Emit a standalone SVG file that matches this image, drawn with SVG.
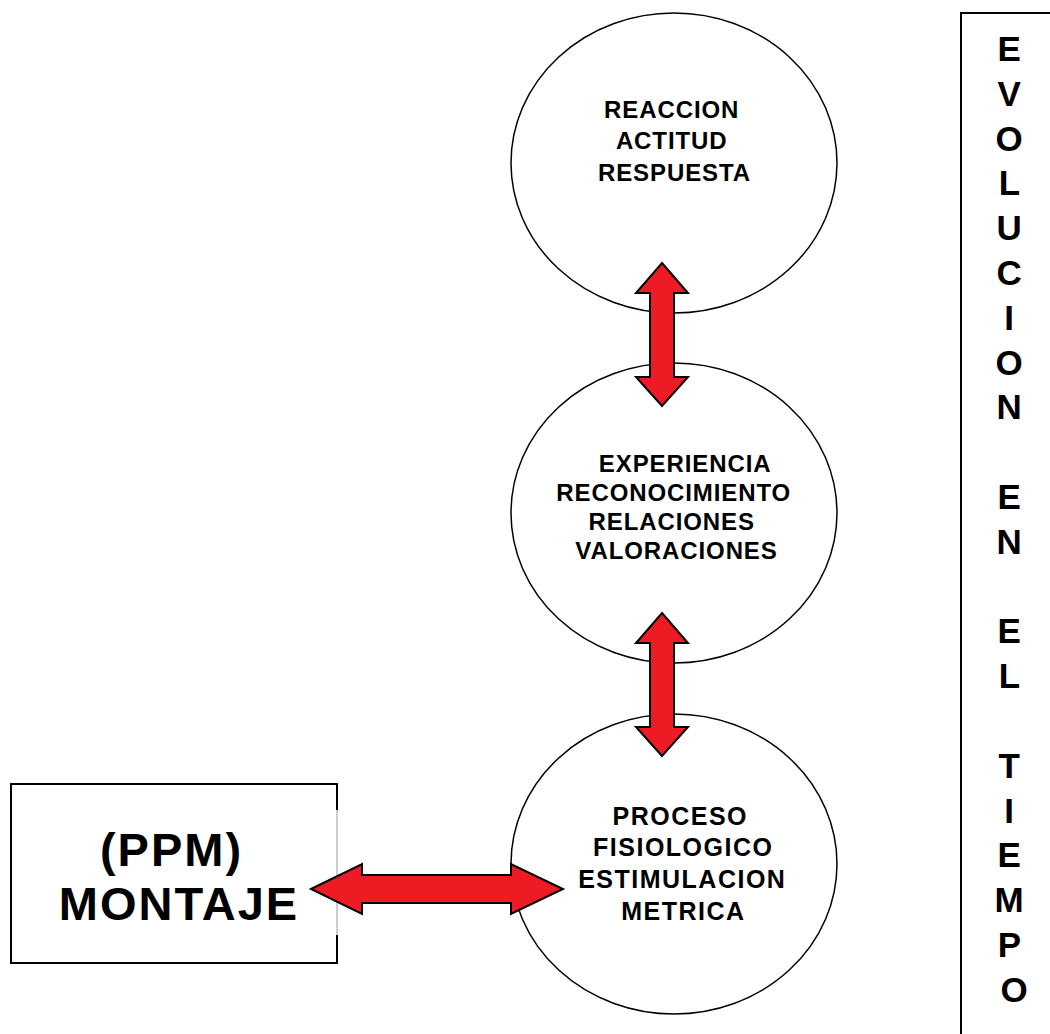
<svg xmlns="http://www.w3.org/2000/svg" width="1050" height="1034" viewBox="0 0 1050 1034">
  <style>
    .node { fill: #ffffff; stroke: #000000; stroke-width: 1.5; }
    .box { fill: #ffffff; stroke: #000000; stroke-width: 2; }
    .lbl { font-family: "Liberation Sans", Arial, sans-serif; font-weight: bold; fill: #000000; text-anchor: middle; }
    .ell { font-size: 24px; letter-spacing: 0.9px; }
    .ell-lg { font-size: 25px; letter-spacing: 1.5px; }
    .big { font-size: 47px; letter-spacing: 2px; }
    .col { font-size: 35px; }
    .arrow { fill: #ED1C24; stroke: #000000; stroke-width: 2; stroke-linejoin: miter; }
  </style>
  <rect width="1050" height="1034" fill="#ffffff"/>

  <!-- vertical banner on the right -->
  <g id="timeline">
    <rect class="box" x="961" y="13" width="200" height="1100"/>
    <text class="lbl col">
      <tspan x="1014" y="61">E</tspan>
      <tspan x="1014" y="105.8">V</tspan>
      <tspan x="1014" y="150.6">O</tspan>
      <tspan x="1014" y="195.4">L</tspan>
      <tspan x="1014" y="240.2">U</tspan>
      <tspan x="1014" y="285">C</tspan>
      <tspan x="1014" y="329.8">I</tspan>
      <tspan x="1014" y="374.6">O</tspan>
      <tspan x="1014" y="419.4">N</tspan>
      <tspan x="1014" y="509">E</tspan>
      <tspan x="1014" y="553.8">N</tspan>
      <tspan x="1014" y="643.4">E</tspan>
      <tspan x="1014" y="688.2">L</tspan>
      <tspan x="1014" y="777.8">T</tspan>
      <tspan x="1014" y="822.6">I</tspan>
      <tspan x="1014" y="867.4">E</tspan>
      <tspan x="1014" y="912.2">M</tspan>
      <tspan x="1014" y="957">P</tspan>
      <tspan x="1014" y="1001.8">O</tspan>
    </text>
  </g>

  <!-- three stages -->
  <g id="reaccion">
    <ellipse class="node" cx="674" cy="163" rx="163" ry="150"/>
    <text class="lbl ell">
      <tspan x="675.5" y="118">REACCION</tspan>
      <tspan x="675.5" y="149">ACTITUD</tspan>
      <tspan x="674.5" y="181">RESPUESTA</tspan>
    </text>
  </g>

  <g id="experiencia">
    <ellipse class="node" cx="674" cy="513" rx="163" ry="150"/>
    <text class="lbl ell">
      <tspan x="688.5" y="472">EXPERIENCIA</tspan>
      <tspan x="677.5" y="501">RECONOCIMIENTO</tspan>
      <tspan x="675.5" y="530">RELACIONES</tspan>
      <tspan x="676.5" y="559">VALORACIONES</tspan>
    </text>
  </g>

  <g id="proceso">
    <ellipse class="node" cx="674" cy="864" rx="163" ry="150"/>
    <text class="lbl ell-lg">
      <tspan x="684.5" y="825">PROCESO</tspan>
      <tspan x="687.5" y="856">FISIOLOGICO</tspan>
      <tspan x="686.5" y="888">ESTIMULACION</tspan>
      <tspan x="683.5" y="920">METRICA</tspan>
    </text>
  </g>

  <g id="montaje">
    <rect class="box" x="11" y="784" width="326" height="179"/>
    <!-- lighter middle stretch of the right edge -->
    <line x1="337" y1="810" x2="337" y2="935" stroke="#ffffff" stroke-width="2.5"/>
    <line x1="337" y1="810" x2="337" y2="935" stroke="#9a9a9a" stroke-width="1"/>
    <text class="lbl big">
      <tspan x="179" y="866">(PPM)</tspan>
      <tspan x="179" y="920">MONTAJE</tspan>
    </text>
  </g>

  <!-- two-way arrows -->
  <g id="connectors">
    <polygon class="arrow" points="662,263 688,293 674,293 674,377 688,377 662,406 636,377 650,377 650,293 636,293"/>
    <polygon class="arrow" points="662,613 688,643 674,643 674,727 688,727 662,756 636,727 650,727 650,643 636,643"/>
    <polygon class="arrow" points="311,889 362,864 362,875 511,875 511,864 563,889 511,914 511,903 362,903 362,914"/>
  </g>
</svg>
